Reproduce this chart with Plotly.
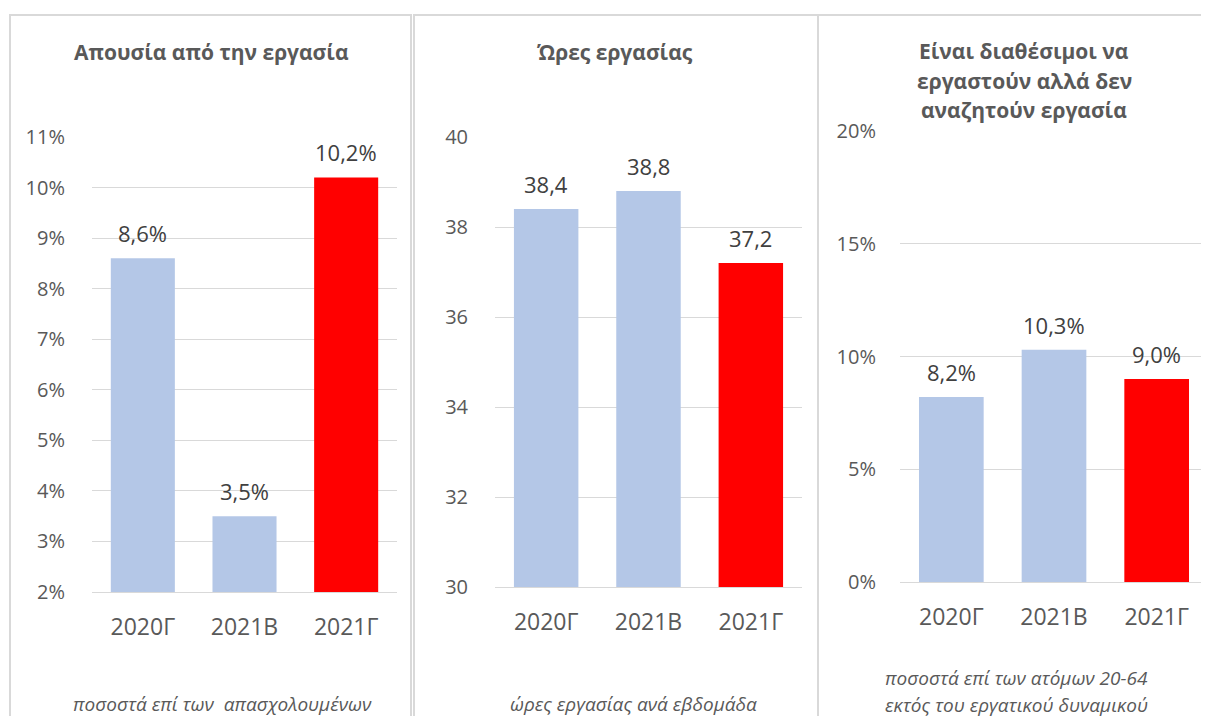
import plotly.graph_objects as go

W, H = 1209, 716
OX, OY = 8, 8  # page offset of the plot div (body margin)

categories = ["2020Γ", "2021Β", "2021Γ"]
absence = [8.6, 3.5, 10.2]
hours = [38.4, 38.8, 37.2]
inactive = [8.2, 10.3, 9.0]
bar_colors = ["#B4C7E7", "#B4C7E7", "#FF0000"]

titles = [["Απουσία από την εργασία"], ["Ώρες εργασίας"],
          ["Είναι διαθέσιμοι να", "εργαστούν αλλά δεν", "αναζητούν εργασία"]]
notes = [["ποσοστά επί των  απασχολουμένων"], ["ώρες εργασίας ανά εβδομάδα"],
         ["ποσοστά επί των ατόμων 20-64", "εκτός του εργατικού δυναμικού"]]

y1_ticks = [2, 3, 4, 5, 6, 7, 8, 9, 10, 11]
y2_ticks = [30, 32, 34, 36, 38, 40]
y3_ticks = [0, 5, 10, 15, 20]

FONT = "Open Sans"
TXT = "#595959"
GRID = "#D9D9D9"


def fx(px):
    return (px - OX) / W


def fy(py):
    return 1 - (py - OY) / H


def num(v):
    return f"{v:.1f}".replace(".", ",")


panels = [
    dict(vals=absence, fmt=lambda v: num(v) + "%", ticks=y1_ticks,
         ticktext=[f"{t}%" for t in y1_ticks], rng=[2, 11],
         xd=(92, 397), yd=(137, 592), std=22),
    dict(vals=hours, fmt=num, ticks=y2_ticks,
         ticktext=[str(t) for t in y2_ticks], rng=[30, 40],
         xd=(495, 802), yd=(137, 587), std=22),
    dict(vals=inactive, fmt=lambda v: num(v) + "%", ticks=y3_ticks,
         ticktext=[f"{t}%" for t in y3_ticks], rng=[0, 20],
         xd=(900, 1208), yd=(131, 582), std=19),
]

fig = go.Figure()
annotations = []
layout = {}
for i, p in enumerate(panels, start=1):
    xa = "x" if i == 1 else f"x{i}"
    ya = "y" if i == 1 else f"y{i}"
    fig.add_trace(go.Bar(x=categories, y=p["vals"], marker_color=bar_colors,
                         marker_line_width=0, width=0.63, xaxis=xa, yaxis=ya,
                         showlegend=False, hoverinfo="skip"))
    layout[f"xaxis{'' if i == 1 else i}"] = dict(
        domain=[fx(p["xd"][0]), fx(p["xd"][1])], anchor=ya,
        showgrid=False, showline=True, linecolor=GRID, linewidth=1,
        ticks="outside", ticklen=14, tickcolor="rgba(0,0,0,0)",
        tickfont=dict(family=FONT, size=23, color=TXT), fixedrange=True)
    layout[f"yaxis{'' if i == 1 else i}"] = dict(
        domain=[fy(p["yd"][1]), fy(p["yd"][0])], anchor=xa, range=p["rng"],
        tickmode="array", tickvals=p["ticks"], ticktext=p["ticktext"], showgrid=True,
        gridcolor=GRID, gridwidth=1, zeroline=False, showline=False,
        ticks="outside", ticklen=p["std"], tickcolor="rgba(0,0,0,0)",
        tickfont=dict(family=FONT, size=20, color=TXT), fixedrange=True)
    for c, v in zip(categories, p["vals"]):
        annotations.append(dict(x=c, y=v, xref=xa, yref=ya, text=p["fmt"](v),
                                showarrow=False, yanchor="middle", yshift=25,
                                font=dict(family=FONT, size=22, color="#404040")))

# titles
title_pos = [(211, [52]), (615, [52]), (1024, [51, 81, 110])]
for lines, (x, ys) in zip(titles, title_pos):
    for t, y in zip(lines, ys):
        annotations.append(dict(x=fx(x), y=fy(y), xref="paper", yref="paper", text=f"<b>{t}</b>",
                                showarrow=False, xanchor="center", yanchor="middle",
                                font=dict(family=FONT, size=21, color=TXT)))

note_pos = [(222, [704]), (633, [704]), (1016, [678, 705])]
for lines, (x, ys) in zip(notes, note_pos):
    for t, y in zip(lines, ys):
        annotations.append(dict(x=fx(x), y=fy(y), xref="paper", yref="paper", text=f"<i>{t}</i>",
                                showarrow=False, xanchor="center", yanchor="middle",
                                font=dict(family=FONT, size=19, color=TXT)))

shapes = []
for x0, x1 in [(10, 411), (414, 818), (818, 1240)]:
    shapes.append(dict(type="rect", xref="paper", yref="paper",
                       x0=fx(x0), x1=fx(x1), y0=fy(760), y1=fy(15),
                       line=dict(color=GRID, width=2), fillcolor="rgba(0,0,0,0)", layer="below"))

fig.update_layout(width=W, height=H, margin=dict(l=0, r=0, t=0, b=0, pad=0, autoexpand=False),
                  paper_bgcolor="white", plot_bgcolor="white",
                  annotations=annotations, shapes=shapes, **layout)

fig.write_html("out.html")
